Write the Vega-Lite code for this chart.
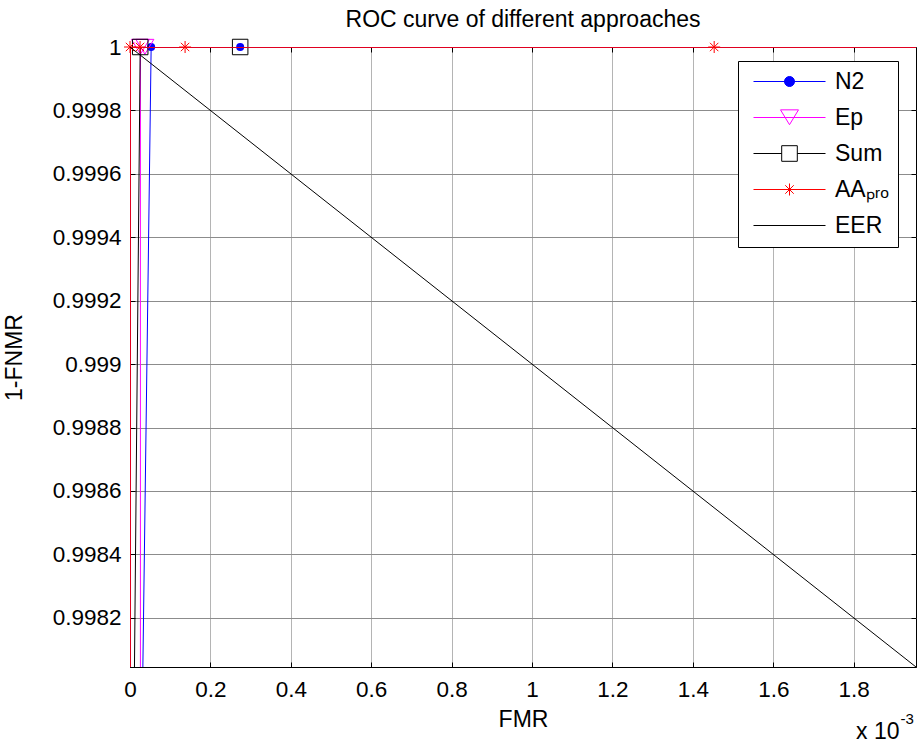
{
  "$schema": "https://vega.github.io/schema/vega-lite/v6.json",
  "width": 786,
  "height": 620,
  "autosize": {"type": "none"},
  "padding": {"left": 130, "top": 47, "right": 6, "bottom": 78},
  "background": "white",
  "config": {
    "view": {"stroke": "black", "strokeWidth": 1},
    "font": "Liberation Sans",
    "axis": {"labelFont": "Liberation Sans", "titleFont": "Liberation Sans", "labelColor": "black", "titleColor": "black", "titleFontWeight": "normal", "tickColor": "black", "domainColor": "black"}
  },
  "title": {"text": "ROC curve of different approaches", "fontSize": 23, "fontWeight": "normal", "font": "Liberation Sans", "color": "black", "baseline": "alphabetic", "offset": 17, "dy": 31, "anchor": "middle", "frame": "group"},
  "datasets": {
    "roc": [
      {"series": "N2", "step": 1, "FMR": 0.000021, "TPR": 0.997},
      {"series": "N2", "step": 2, "FMR": 0.0000526, "TPR": 1},
      {"series": "N2", "step": 3, "FMR": 0.000274, "TPR": 1},
      {"series": "Ep", "step": 1, "FMR": 0.0000259, "TPR": 0.997},
      {"series": "Ep", "step": 2, "FMR": 0.0000259, "TPR": 1},
      {"series": "Ep", "step": 3, "FMR": 0.000037, "TPR": 1},
      {"series": "Sum", "step": 1, "FMR": 0.0000035, "TPR": 0.997},
      {"series": "Sum", "step": 2, "FMR": 0.0000254, "TPR": 1},
      {"series": "Sum", "step": 3, "FMR": 0.000274, "TPR": 1},
      {"series": "AA_pro", "step": 1, "FMR": 0, "TPR": 0.997},
      {"series": "AA_pro", "step": 2, "FMR": 0, "TPR": 1},
      {"series": "AA_pro", "step": 3, "FMR": 0.000025, "TPR": 1},
      {"series": "AA_pro", "step": 4, "FMR": 0.000137, "TPR": 1},
      {"series": "AA_pro", "step": 5, "FMR": 0.001453, "TPR": 1},
      {"series": "AA_pro", "step": 6, "FMR": 0.0025, "TPR": 1},
      {"series": "EER", "step": 1, "FMR": 0, "TPR": 1},
      {"series": "EER", "step": 2, "FMR": 0.0025, "TPR": 0.9975}
    ],
    "legend": [
      {"series": "N2"}, {"series": "Ep"}, {"series": "Sum"}, {"series": "AA_pro"}, {"series": "EER"}
    ]
  },
  "layer": [
    {
      "data": {"name": "roc"},
      "transform": [{"filter": "datum.series == 'N2'"}],
      "mark": {"type": "line", "color": "#0000ff", "strokeWidth": 1, "clip": true},
      "encoding": {
        "x": {"field": "FMR", "type": "quantitative", "scale": {"domain": [0, 0.001955], "nice": false, "zero": false},
          "axis": {"values": [0, 0.0002, 0.0004, 0.0006, 0.0008, 0.001, 0.0012, 0.0014, 0.0016, 0.0018],
            "labelExpr": "format(datum.value*1000, '~g')", "labelFontSize": 22.5, "labelPadding": 16, "tickSize": -5, "ticks": true,
            "grid": true, "gridColor": "#b4b4b4", "gridWidth": 1, "domain": true, "labelFlush": false, "labelOverlap": false,
            "title": "FMR", "titleFontSize": 23, "titleX": 393, "titleY": 59, "titleBaseline": "alphabetic", "titleAlign": "center"}},
        "y": {"field": "TPR", "type": "quantitative", "scale": {"domain": [0.998045, 1], "nice": false, "zero": false},
          "axis": {"values": [0.9982, 0.9984, 0.9986, 0.9988, 0.999, 0.9992, 0.9994, 0.9996, 0.9998, 1],
            "format": "~g", "labelFontSize": 22.5, "labelPadding": 14, "tickSize": -5, "ticks": true,
            "grid": true, "gridColor": "#8c8c8c", "gridWidth": 1, "domain": true, "labelFlush": false, "labelOverlap": false,
            "title": "1-FNMR", "titleFontSize": 23, "titleX": -109, "titleY": 310, "titleAngle": 270, "titleBaseline": "alphabetic", "titleAlign": "center"}},
        "order": {"field": "step", "type": "quantitative"}
      }
    },
    {
      "data": {"name": "roc"},
      "transform": [{"filter": "datum.series == 'N2' && datum.TPR >= 0.998 && datum.FMR <= 0.001955"}],
      "mark": {"type": "point", "shape": "circle", "filled": true, "color": "#0000ff", "size": 64, "opacity": 1, "clip": false},
      "encoding": {
        "x": {"field": "FMR", "type": "quantitative", "axis": null},
        "y": {"field": "TPR", "type": "quantitative", "axis": null}
      }
    },
    {
      "data": {"name": "roc"},
      "transform": [{"filter": "datum.series == 'Ep'"}],
      "mark": {"type": "line", "color": "#ff00ff", "strokeWidth": 1, "clip": true},
      "encoding": {
        "x": {"field": "FMR", "type": "quantitative", "axis": null},
        "y": {"field": "TPR", "type": "quantitative", "axis": null},
        "order": {"field": "step", "type": "quantitative"}
      }
    },
    {
      "data": {"name": "roc"},
      "transform": [{"filter": "datum.series == 'Ep' && datum.TPR >= 0.998 && datum.FMR <= 0.001955"}],
      "mark": {"type": "point", "shape": "M-1,-0.85L1,-0.85L0,0.8Z", "filled": false, "color": "#ff00ff", "size": 324, "strokeWidth": 1, "opacity": 1, "clip": false},
      "encoding": {
        "x": {"field": "FMR", "type": "quantitative", "axis": null},
        "y": {"field": "TPR", "type": "quantitative", "axis": null}
      }
    },
    {
      "data": {"name": "roc"},
      "transform": [{"filter": "datum.series == 'Sum'"}],
      "mark": {"type": "line", "color": "#000000", "strokeWidth": 1, "clip": true},
      "encoding": {
        "x": {"field": "FMR", "type": "quantitative", "axis": null},
        "y": {"field": "TPR", "type": "quantitative", "axis": null},
        "order": {"field": "step", "type": "quantitative"}
      }
    },
    {
      "data": {"name": "roc"},
      "transform": [{"filter": "datum.series == 'Sum' && datum.TPR >= 0.998 && datum.FMR <= 0.001955"}],
      "mark": {"type": "point", "shape": "square", "filled": false, "color": "#000000", "size": 240, "strokeWidth": 1, "opacity": 1, "clip": false},
      "encoding": {
        "x": {"field": "FMR", "type": "quantitative", "axis": null},
        "y": {"field": "TPR", "type": "quantitative", "axis": null}
      }
    },
    {
      "data": {"name": "roc"},
      "transform": [{"filter": "datum.series == 'AA_pro'"}],
      "mark": {"type": "line", "color": "#e00020", "strokeWidth": 2, "clip": true},
      "encoding": {
        "x": {"field": "FMR", "type": "quantitative", "axis": null},
        "y": {"field": "TPR", "type": "quantitative", "axis": null},
        "order": {"field": "step", "type": "quantitative"}
      }
    },
    {
      "data": {"name": "roc"},
      "transform": [{"filter": "datum.series == 'AA_pro' && datum.TPR >= 0.998 && datum.FMR <= 0.001955"}],
      "mark": {"type": "point", "shape": "M-1,0L1,0M0,-1L0,1M-0.7,-0.7L0.7,0.7M-0.7,0.7L0.7,-0.7", "filled": false, "color": "#ff0000", "size": 144, "strokeWidth": 1, "opacity": 1, "clip": false},
      "encoding": {
        "x": {"field": "FMR", "type": "quantitative", "axis": null},
        "y": {"field": "TPR", "type": "quantitative", "axis": null}
      }
    },
    {
      "data": {"name": "roc"},
      "transform": [{"filter": "datum.series == 'EER'"}],
      "mark": {"type": "line", "color": "#000000", "strokeWidth": 1, "clip": true},
      "encoding": {
        "x": {"field": "FMR", "type": "quantitative", "axis": null},
        "y": {"field": "TPR", "type": "quantitative", "axis": null},
        "order": {"field": "step", "type": "quantitative"}
      }
    },
    {
      "data": {"name": "roc"},
      "transform": [{"filter": "datum.series == 'EER' && datum.FMR <= 0.001955"}],
      "mark": {"type": "point", "opacity": 0},
      "encoding": {
        "x": {"field": "FMR", "type": "quantitative",
          "axis": {"orient": "top", "values": [0, 0.0002, 0.0004, 0.0006, 0.0008, 0.001, 0.0012, 0.0014, 0.0016, 0.0018], "labels": false, "ticks": true, "tickSize": -5, "domain": false, "grid": false,
            "title": "x 10", "titleFontSize": 23, "titleX": 769, "titleY": 691, "titleAlign": "right", "titleBaseline": "alphabetic", "titleAngle": 0}},
        "y": {"field": "TPR", "type": "quantitative",
          "axis": {"orient": "right", "values": [0.9982, 0.9984, 0.9986, 0.9988, 0.999, 0.9992, 0.9994, 0.9996, 0.9998, 1], "labels": false, "ticks": true, "tickSize": -5, "domain": false, "grid": false,
            "title": "-3", "titleFontSize": 15, "titleX": -16, "titleY": 676, "titleAlign": "left", "titleBaseline": "alphabetic", "titleAngle": 0}}
      }
    },
    {
      "data": {"name": "legend"},
      "mark": {"type": "point", "filled": true, "opacity": 0, "strokeWidth": 1},
      "encoding": {
        "stroke": {"field": "series", "type": "nominal", "title": null,
          "scale": {"domain": ["N2", "Ep", "Sum", "AA_pro", "EER"], "range": ["#0000ff", "#ff00ff", "#000000", "#ff0000", "#000000"]},
          "legend": {"orient": "none", "legendX": 608, "legendY": 14, "direction": "vertical", "strokeColor": "black", "fillColor": "white", "padding": 9, "cornerRadius": 0,
            "symbolSize": 324, "symbolStrokeWidth": 1, "symbolOffset": 31, "symbolOpacity": 1, "labelOffset": 34, "labelFontSize": 23, "labelFont": "Liberation Sans", "labelColor": "black", "labelLimit": 0, "rowPadding": 12,
            "labelExpr": "datum.label == 'AA_pro' ? 'AAₚᵣₒ' : datum.label"}},
        "fill": {"field": "series", "type": "nominal", "title": null,
          "scale": {"domain": ["N2", "Ep", "Sum", "AA_pro", "EER"], "range": ["#0000ff", "transparent", "transparent", "transparent", "transparent"]},
          "legend": {"orient": "none", "legendX": 608, "legendY": 14, "direction": "vertical", "strokeColor": "black", "fillColor": "white", "padding": 9, "cornerRadius": 0,
            "symbolSize": 324, "symbolStrokeWidth": 1, "symbolOffset": 31, "symbolOpacity": 1, "labelOffset": 34, "labelFontSize": 23, "labelFont": "Liberation Sans", "labelColor": "black", "labelLimit": 0, "rowPadding": 12,
            "labelExpr": "datum.label == 'AA_pro' ? 'AAₚᵣₒ' : datum.label"}},
        "shape": {"field": "series", "type": "nominal", "title": null,
          "scale": {"domain": ["N2", "Ep", "Sum", "AA_pro", "EER"], "range": [
            "M-4,0L4,0M0.556,0A0.556,0.556,0,1,1,-0.556,0A0.556,0.556,0,1,1,0.556,0Z",
            "M-4,0L4,0M-1,-0.85L1,-0.85L0,0.8Z",
            "M-4,0L-0.867,0M0.867,0L4,0M-0.867,-0.867L0.867,-0.867L0.867,0.867L-0.867,0.867Z",
            "M-4,0L4,0M-0.667,0L0.667,0M0,-0.667L0,0.667M-0.47,-0.47L0.47,0.47M-0.47,0.47L0.47,-0.47",
            "M-4,0L4,0"]},
          "legend": {"orient": "none", "legendX": 608, "legendY": 14, "direction": "vertical", "strokeColor": "black", "fillColor": "white", "padding": 9, "cornerRadius": 0,
            "symbolSize": 324, "symbolStrokeWidth": 1, "symbolOffset": 31, "symbolOpacity": 1, "labelOffset": 34, "labelFontSize": 23, "labelFont": "Liberation Sans", "labelColor": "black", "labelLimit": 0, "rowPadding": 12,
            "labelExpr": "datum.label == 'AA_pro' ? 'AAₚᵣₒ' : datum.label"}}
      }
    }
  ],
  "resolve": {"axis": {"x": "independent", "y": "independent"}}
}
